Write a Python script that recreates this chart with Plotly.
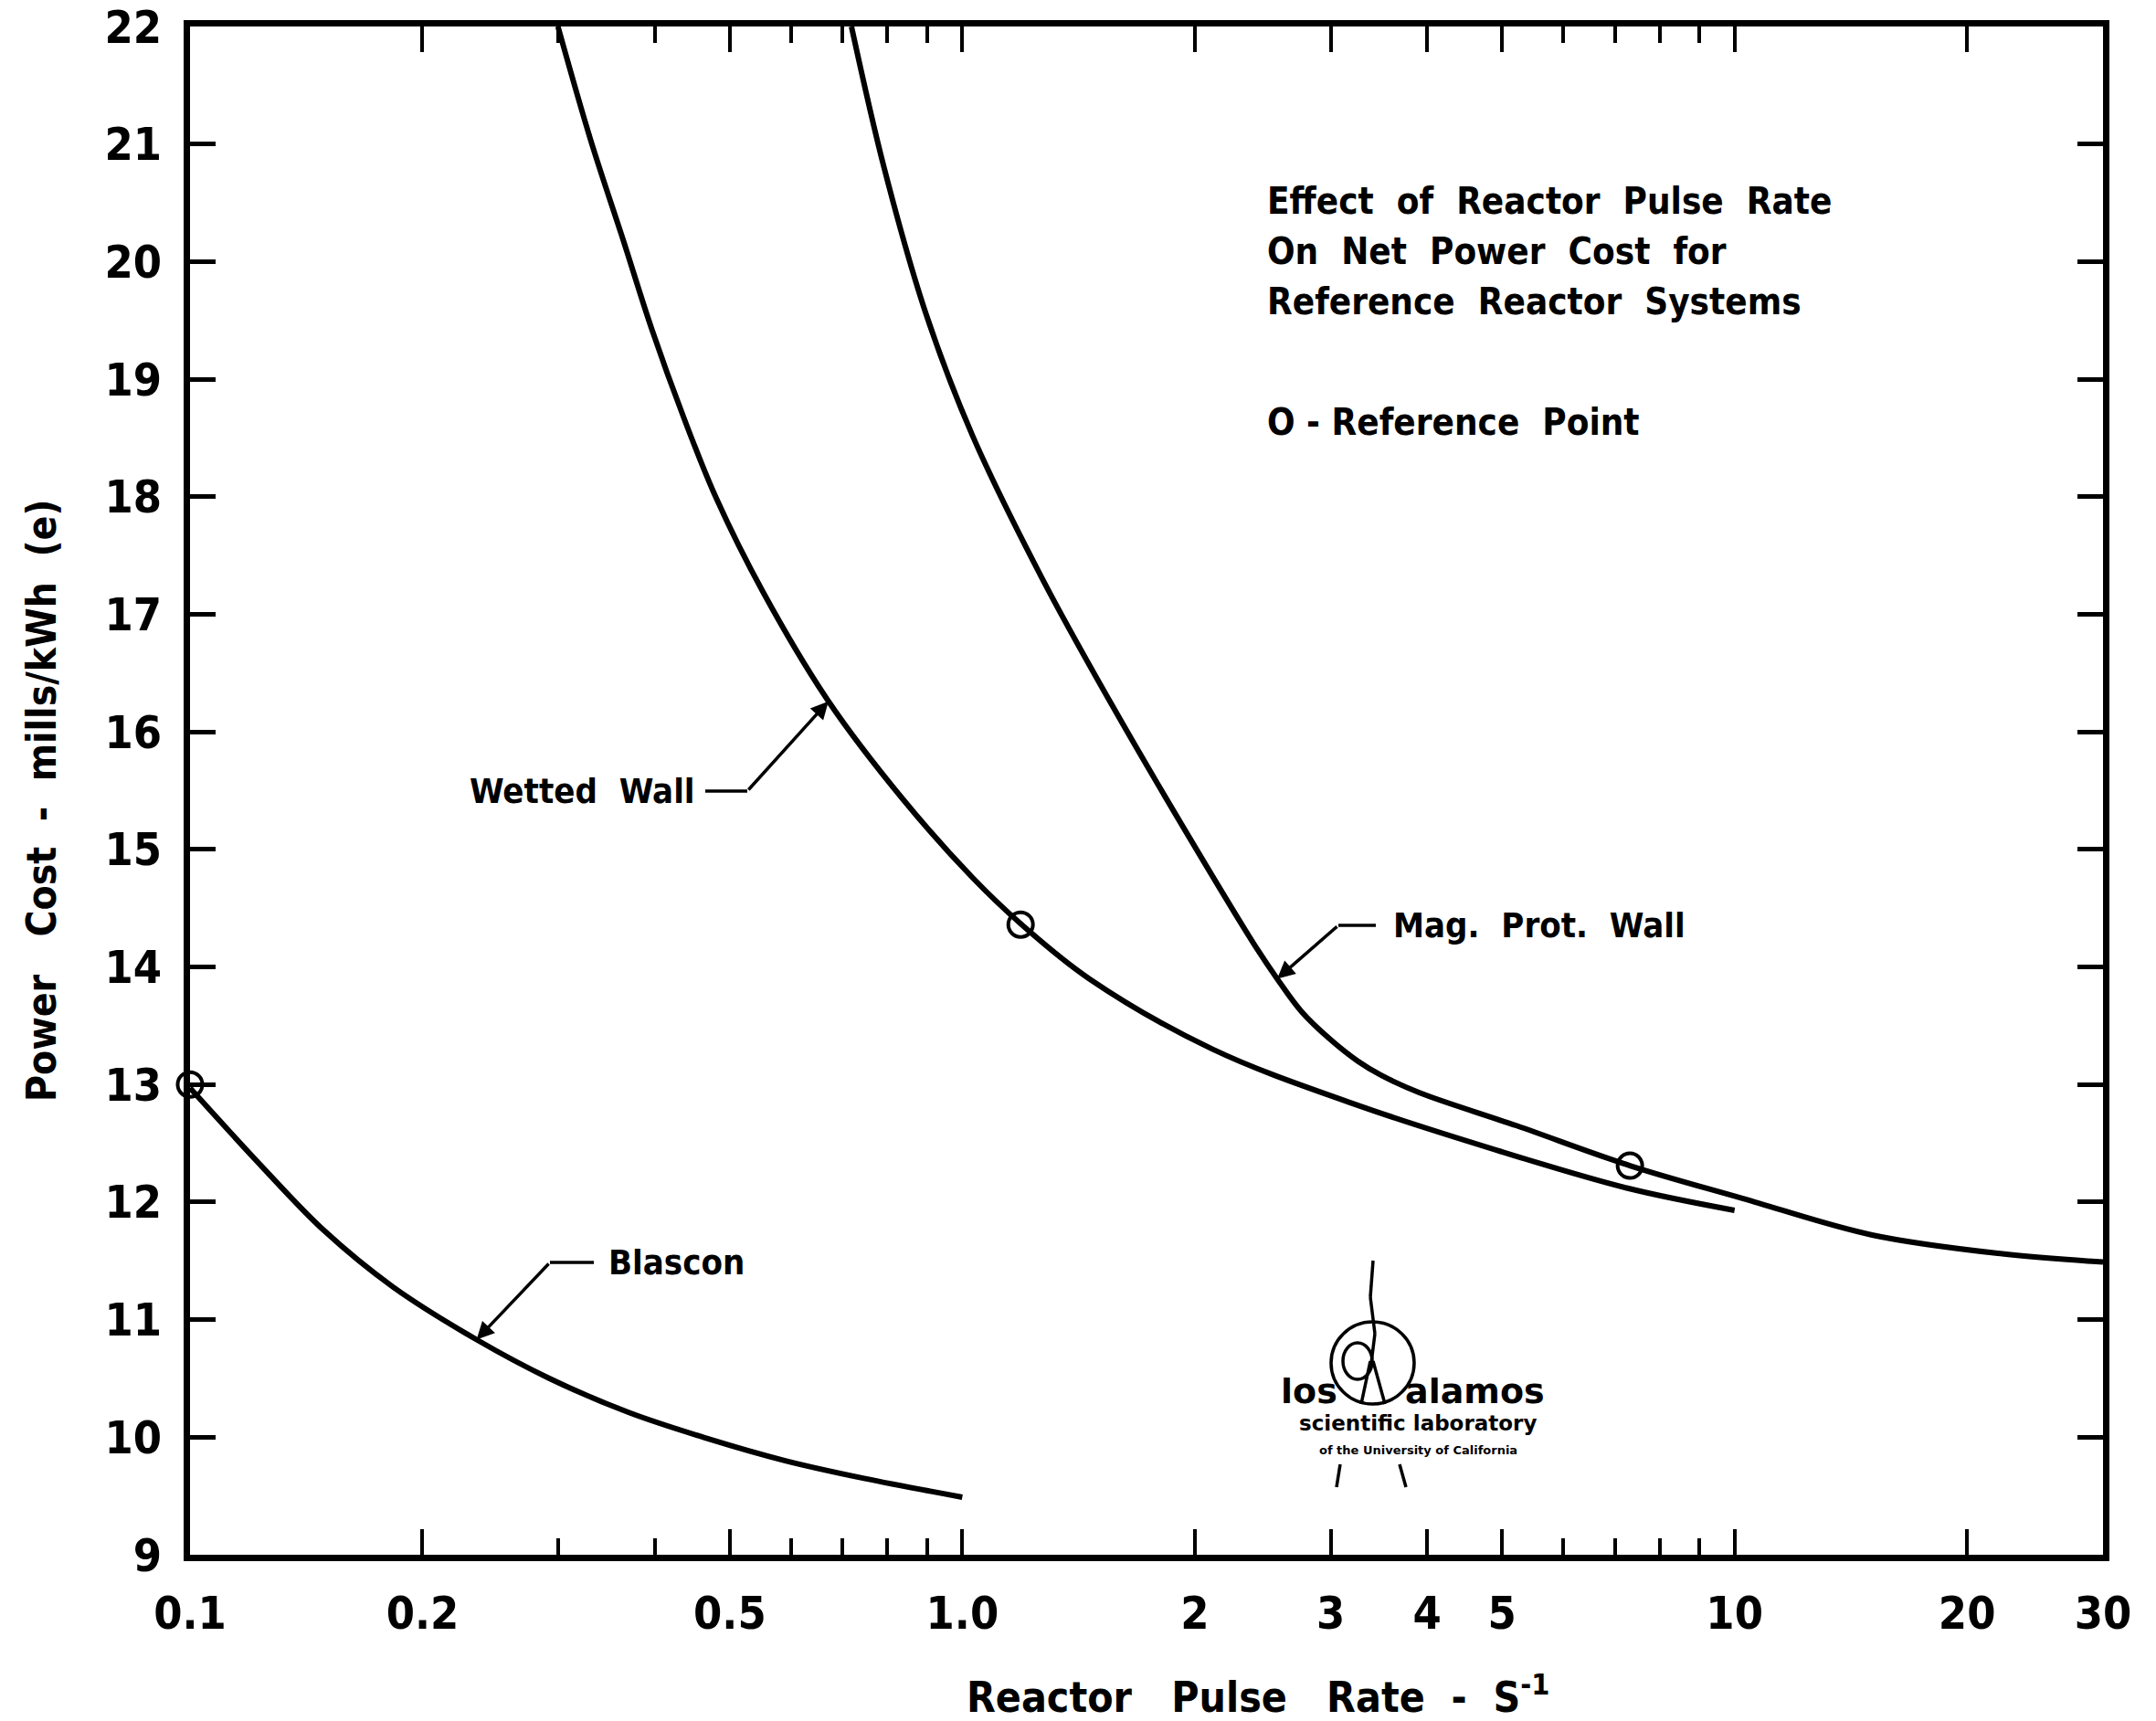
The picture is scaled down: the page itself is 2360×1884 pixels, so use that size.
import math
import plotly.graph_objects as go

# ---------------- data ----------------
blascon_x = [0.1, 0.124, 0.149, 0.183, 0.235, 0.292, 0.37, 0.467, 0.59, 0.746, 1.0]
blascon_y = [12.97, 12.30, 11.76, 11.28, 10.83, 10.50, 10.21, 9.99, 9.80, 9.65, 9.49]

wetted_x = [0.2995, 0.330, 0.364, 0.396, 0.436, 0.480, 0.552, 0.671, 0.837, 1.031, 1.194,
            1.46, 2.11, 3.23, 4.93, 7.25, 10.0]
wetted_y = [22.0, 21.04, 20.18, 19.43, 18.67, 17.99, 17.19, 16.26, 15.43, 14.76, 14.36,
            13.90, 13.30, 12.83, 12.44, 12.12, 11.93]

mag_x = [0.7186, 0.792, 0.898, 1.031, 1.27, 1.565, 1.928, 2.41, 2.557, 2.75, 3.0, 3.25,
         3.483, 3.91, 5.22, 7.32, 10.26, 15.07, 22.2, 30.0]
mag_y = [22.0, 20.80, 19.55, 18.52, 17.30, 16.22, 15.20, 14.15, 13.90, 13.62, 13.38, 13.20,
         13.08, 12.93, 12.65, 12.31, 12.03, 11.72, 11.56, 11.49]

ref_x = [0.1, 1.19, 7.32]
ref_y = [13.0, 14.36, 12.31]

x_tickvals = [0.1, 0.2, 0.5, 1.0, 2, 3, 4, 5, 10, 20, 30]
x_ticktext = ["0.1", "0.2", "0.5", "1.0", "2", "3", "4", "5", "10", "20", "30"]
x_minorvals = [0.3, 0.4, 0.6, 0.7, 0.8, 0.9, 6, 7, 8, 9]
y_tickvals = list(range(9, 23))

# ---------------- layout helpers ----------------
W, H = 2360, 1884
L, R, T, B = 208, 2302, 29, 1702
XR = [-1, math.log10(30)]
YR = [9, 22]
def px(X):
    return (X - L) / (R - L)
def py(Y):
    return (B - Y) / (B - T)
def data_to_pixel(xv, yv):
    fx = (math.log10(xv) - XR[0]) / (XR[1] - XR[0])
    fy = (yv - YR[0]) / (YR[1] - YR[0])
    return L + fx * (R - L), B - fy * (B - T)

NARROW = "Liberation Sans Narrow, Arial Narrow, DejaVu Sans Condensed, Liberation Sans, sans-serif"
ROUND = "DejaVu Sans, Verdana, sans-serif"
BLACK = "#000000"

fig = go.Figure()
line_style = dict(color=BLACK, width=6, shape="spline", smoothing=1.0)
fig.add_trace(go.Scatter(x=blascon_x, y=blascon_y, mode="lines", line=line_style, name="Blascon"))
fig.add_trace(go.Scatter(x=wetted_x, y=wetted_y, mode="lines", line=line_style, name="Wetted Wall"))
fig.add_trace(go.Scatter(x=mag_x, y=mag_y, mode="lines", line=line_style, name="Mag. Prot. Wall"))
fig.add_trace(go.Scatter(x=ref_x, y=ref_y, mode="markers", name="Reference Point",
                         marker=dict(symbol="circle-open", size=27, color=BLACK,
                                     line=dict(width=4, color=BLACK)),
                         cliponaxis=False))
# invisible trace that carries the mirrored top axis
fig.add_trace(go.Scatter(x=[x_tickvals[0], x_tickvals[-1]], y=[y_tickvals[0], y_tickvals[0]],
                         xaxis="x2", mode="markers", marker=dict(opacity=0),
                         hoverinfo="skip", showlegend=False))

annotations = []
shapes = []

def text(X, Y, s, size, family=NARROW, anchor="left"):
    annotations.append(dict(x=px(X), y=py(Y), xref="paper", yref="paper", text=s,
                            showarrow=False, xanchor=anchor, yanchor="middle",
                            font=dict(family=family, size=size, color=BLACK, weight="bold")))

# chart note
text(1385, 220, "Effect  of  Reactor  Pulse  Rate", 40)
text(1385, 275, "On  Net  Power  Cost  for", 40)
text(1385, 330, "Reference  Reactor  Systems", 40)
text(1385, 462, "O - Reference  Point", 40)

# curve labels with leader lines: text, horizontal stub to an elbow, arrow to the curve
def leader(label, tx, ty, stub_x0, elbow_x, tipx, tipy):
    text(tx, ty, label, 38)
    shapes.append(dict(type="line", xref="paper", yref="paper",
                       x0=px(stub_x0), y0=py(ty), x1=px(elbow_x), y1=py(ty),
                       line=dict(color=BLACK, width=3.5)))
    tx_pix, ty_pix = data_to_pixel(tipx, tipy)
    annotations.append(dict(x=math.log10(tipx), y=tipy, xref="x", yref="y", text="",
                            showarrow=True, arrowhead=2, arrowsize=1.1, arrowwidth=3.5,
                            arrowcolor=BLACK, ax=elbow_x - tx_pix, ay=ty - ty_pix,
                            axref="pixel", ayref="pixel", standoff=0))

leader("Wetted  Wall", 512, 866, 772, 818, 0.671, 16.26)
leader("Blascon", 664, 1382, 650, 602, 0.235, 10.83)
leader("Mag.  Prot.  Wall", 1523, 1013, 1506, 1465, 2.557, 13.90)

# axis titles
text(1377, 1855, "Reactor   Pulse   Rate  -  S<sup>-1</sup>", 46, anchor="center")
annotations.append(dict(x=px(45), y=py(877), xref="paper", yref="paper",
                        text="Power   Cost  -  mills/kWh  (e)", textangle=-90,
                        showarrow=False, xanchor="center", yanchor="middle",
                        font=dict(family=NARROW, size=44, color=BLACK, weight="bold")))

# logo
text(1400, 1523, "los", 38, family=ROUND)
text(1536, 1523, "alamos", 38, family=ROUND)
text(1552, 1558, "scientific laboratory", 23, family=ROUND, anchor="center")
text(1552, 1587, "of the University of California", 13, family=ROUND, anchor="center")
shapes.append(dict(type="circle", xref="paper", yref="paper",
                   x0=px(1457), x1=px(1548), y0=py(1537), y1=py(1447),
                   line=dict(color=BLACK, width=3.5)))
shapes.append(dict(type="circle", xref="paper", yref="paper",
                   x0=px(1470), x1=px(1502), y0=py(1510), y1=py(1470),
                   line=dict(color=BLACK, width=3.5)))
for (x0, y0, x1, y1) in [(1503, 1380, 1500, 1420), (1500, 1420, 1505, 1460),
                         (1505, 1460, 1500, 1500), (1500, 1490, 1490, 1537),
                         (1503, 1490, 1516, 1537), (1467, 1603, 1463, 1628),
                         (1532, 1603, 1539, 1628)]:
    shapes.append(dict(type="line", xref="paper", yref="paper",
                       x0=px(x0), y0=py(y0), x1=px(x1), y1=py(y1),
                       line=dict(color=BLACK, width=3.5)))

tickfont = dict(family=NARROW, size=50, color=BLACK, weight="bold")
minor = dict(tickvals=x_minorvals, ticks="inside", ticklen=18, tickwidth=4,
             tickcolor=BLACK, showgrid=False)

fig.update_layout(
    width=W, height=H,
    margin=dict(l=L, r=W - R, t=T, b=H - B, pad=0, autoexpand=False),
    paper_bgcolor="white", plot_bgcolor="white",
    showlegend=False,
    annotations=annotations,
    shapes=shapes,
    xaxis=dict(type="log", range=XR, tickvals=x_tickvals, ticktext=x_ticktext,
               ticks="inside", ticklen=28, tickwidth=4, tickcolor=BLACK,
               showline=True, linewidth=7, linecolor=BLACK, mirror=True,
               showgrid=False, zeroline=False, tickfont=tickfont, ticklabelstandoff=14,
               minor=minor, automargin=False),
    xaxis2=dict(type="log", range=XR, tickvals=x_tickvals, overlaying="x", side="top",
                ticks="inside", ticklen=28, tickwidth=4, tickcolor=BLACK,
                showline=False, showticklabels=False, showgrid=False, zeroline=False,
                minor=minor, automargin=False),
    yaxis=dict(range=[YR[0], YR[1] + 0.0001], tickvals=y_tickvals,
               ticks="inside", ticklen=28, tickwidth=5, tickcolor=BLACK,
               showline=True, linewidth=7, linecolor=BLACK, mirror="ticks",
               showgrid=False, zeroline=False, tickfont=tickfont, ticklabelstandoff=14,
               ticklabeloverflow="allow", automargin=False),
)

fig.write_html("out.html")
